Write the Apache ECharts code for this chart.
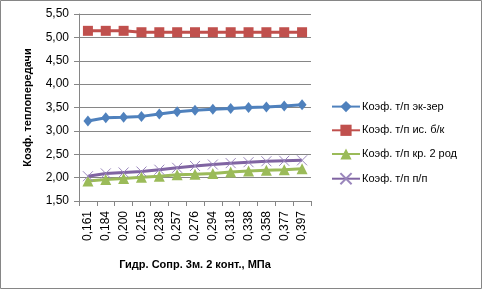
<!DOCTYPE html>
<html><head><meta charset="utf-8">
<script src="https://cdn.jsdelivr.net/npm/echarts@6/dist/echarts.min.js"></script>
<style>html,body{margin:0;padding:0;background:#fff}#c{width:482px;height:289px}</style>
</head><body><div id="c"></div>
<script>
const categories = ['0,161','0,184','0,200','0,215','0,238','0,257','0,276','0,294','0,318','0,338','0,358','0,377','0,397'];
const seriesNames = ['Коэф. т/п эк-зер','Коэф. т/п ис. б/к','Коэф. т/п кр. 2 род','Коэф. т/п п/п'];
const ekzer = [3.21,3.28,3.29,3.31,3.36,3.41,3.44,3.46,3.48,3.50,3.51,3.53,3.56];
const isbk  = [5.14,5.14,5.14,5.11,5.11,5.11,5.11,5.11,5.11,5.11,5.11,5.11,5.11];
const kr2   = [1.93,1.96,1.98,2.01,2.03,2.06,2.07,2.09,2.12,2.14,2.16,2.17,2.19];
const pp    = [2.03,2.09,2.11,2.13,2.17,2.21,2.25,2.28,2.31,2.33,2.35,2.36,2.37];
const yTitle = 'Коэф. теплопередачи';
const xTitle = 'Гидр. Сопр. 3м. 2 конт., МПа';

const FONT = 'Liberation Sans';
const colors = ['#4F81BD','#C0504D','#9BBB59','#8064A2'];
const chart = echarts.init(document.getElementById('c'), null, {renderer:'canvas'});
function ser(i, data, symbol, size, extra){
  return Object.assign({
    name: seriesNames[i], type:'line', data: data, symbol: symbol, symbolSize: size,
    showAllSymbol: true,
    lineStyle:{color:colors[i], width:3},
    itemStyle:{color:colors[i]},
    emphasis:{disabled:true}, animation:false
  }, extra||{});
}
chart.setOption({
  animation:false,
  textStyle:{fontFamily:FONT},
  graphic:[{type:'rect', shape:{x:0.5,y:0.5,width:481,height:288}, style:{fill:null, stroke:'#868686', lineWidth:1}, silent:true}],
  grid:{left:79, right:171, top:14, bottom:88},
  legend:{
    orient:'vertical', left:326, top:96, itemWidth:28, itemHeight:14, itemGap:12.5,
    textStyle:{fontFamily:FONT, fontSize:11, color:'#000', padding:[0,0,0,-3]},
    data: seriesNames
  },
  xAxis:{
    type:'category', data:categories, boundaryGap:true,
    name:xTitle, nameLocation:'middle', nameGap:58,
    nameTextStyle:{fontFamily:FONT, fontSize:11, fontWeight:'bold', color:'#000'},
    axisLine:{lineStyle:{color:'#868686', width:1}},
    axisTick:{show:true, inside:false, length:5, alignWithLabel:false, lineStyle:{color:'#868686'}},
    axisLabel:{rotate:90, margin:10, fontFamily:FONT, fontSize:12, color:'#000', interval:0},
    splitLine:{show:false}
  },
  yAxis:{
    type:'value', min:1.5, max:5.5, interval:0.5,
    name:yTitle, nameLocation:'middle', nameGap:46, nameRotate:90,
    nameTextStyle:{fontFamily:FONT, fontSize:11, fontWeight:'bold', color:'#000'},
    axisLine:{show:true, lineStyle:{color:'#868686', width:1}},
    axisTick:{show:true, length:5, lineStyle:{color:'#868686'}},
    axisLabel:{margin:10, fontFamily:FONT, fontSize:12, color:'#000', formatter:v=>v.toFixed(2).replace('.',',')},
    splitLine:{show:true, lineStyle:{color:'#868686', width:1}}
  },
  series:[
    ser(0, ekzer, 'diamond', [9,11]),
    ser(1, isbk, 'rect', 10),
    ser(2, kr2, 'triangle', 11),
    ser(3, pp, 'path://M0,0L10,10M10,0L0,10', 10, {itemStyle:{color:'#8064A2', borderColor:'#9A86BC', borderWidth:1}})
  ]
});
</script></body></html>
